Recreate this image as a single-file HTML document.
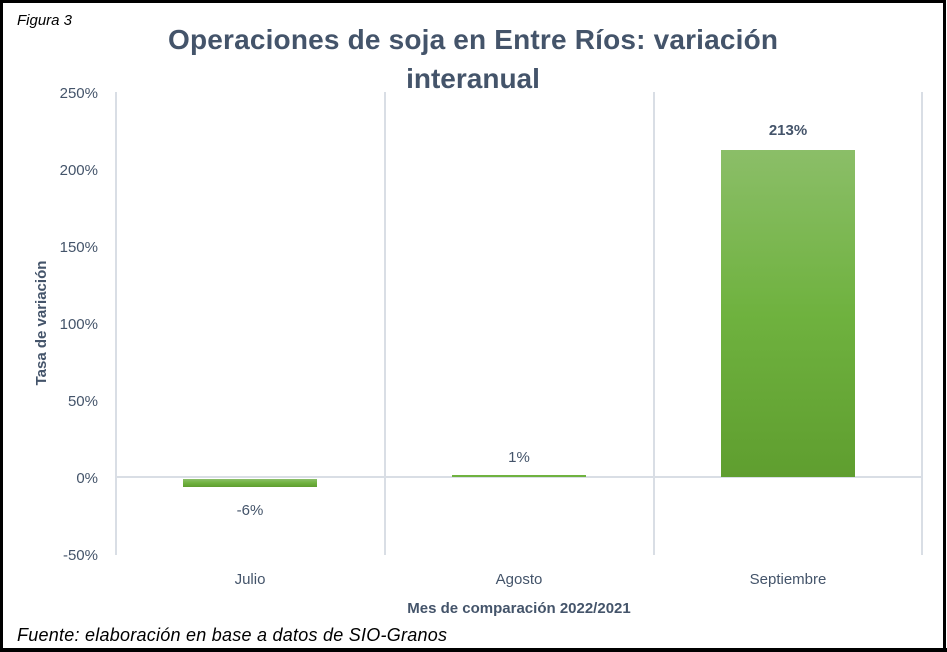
<!DOCTYPE html>
<html><head><meta charset="utf-8"><style>
html,body{margin:0;padding:0;background:#fff}
svg{display:block;font-family:"Liberation Sans",sans-serif}
</style></head><body>
<svg width="947" height="652" viewBox="0 0 947 652" xmlns="http://www.w3.org/2000/svg">
<defs><linearGradient id="g" x1="0" y1="0" x2="0" y2="1"><stop offset="0" stop-color="#8bbe68"/><stop offset="0.5" stop-color="#6fb23f"/><stop offset="1" stop-color="#5f9e2f"/></linearGradient></defs>
<rect x="1.5" y="1.5" width="943" height="648" fill="#fff" stroke="#000" stroke-width="3"/>
<rect x="0" y="648" width="947" height="4" fill="#000"/>
<text x="17" y="25" font-size="15" font-style="italic" fill="#000">Figura 3</text>
<text x="168" y="49" font-size="28" font-weight="bold" fill="#44546a" textLength="610">Operaciones de soja en Entre Ríos: variación</text>
<text x="473" y="88" font-size="28" font-weight="bold" fill="#44546a" text-anchor="middle">interanual</text>
<g stroke="#d9dee5" stroke-width="2">
<line x1="116" y1="92" x2="116" y2="555"/><line x1="385" y1="92" x2="385" y2="555"/><line x1="654" y1="92" x2="654" y2="555"/><line x1="922" y1="92" x2="922" y2="555"/>
<line x1="116" y1="477" x2="922" y2="477"/>
</g>
<g font-size="15" fill="#44546a" text-anchor="end">
<text x="98" y="98">250%</text><text x="98" y="175">200%</text><text x="98" y="252">150%</text><text x="98" y="329">100%</text><text x="98" y="406">50%</text><text x="98" y="483">0%</text><text x="98" y="560">-50%</text>
</g>
<rect x="183" y="479" width="134" height="8" fill="url(#g)"/>
<rect x="452" y="475" width="134" height="2" fill="#6fb23f"/>
<rect x="721" y="150" width="134" height="327" fill="url(#g)"/>
<g font-size="15" fill="#44546a" text-anchor="middle">
<text x="250" y="515">-6%</text><text x="519" y="462">1%</text>
<text x="788" y="135" font-weight="bold">213%</text>
<text x="250" y="584">Julio</text><text x="519" y="584">Agosto</text><text x="788" y="584">Septiembre</text>
<text x="519" y="613" font-weight="bold">Mes de comparación 2022/2021</text>
</g>
<text transform="translate(46,323) rotate(-90)" font-size="15" font-weight="bold" fill="#44546a" text-anchor="middle">Tasa de variación</text>
<text x="17" y="641" font-size="18" font-style="italic" fill="#000" textLength="430">Fuente: elaboración en base a datos de SIO-Granos</text>
</svg>
</body></html>
